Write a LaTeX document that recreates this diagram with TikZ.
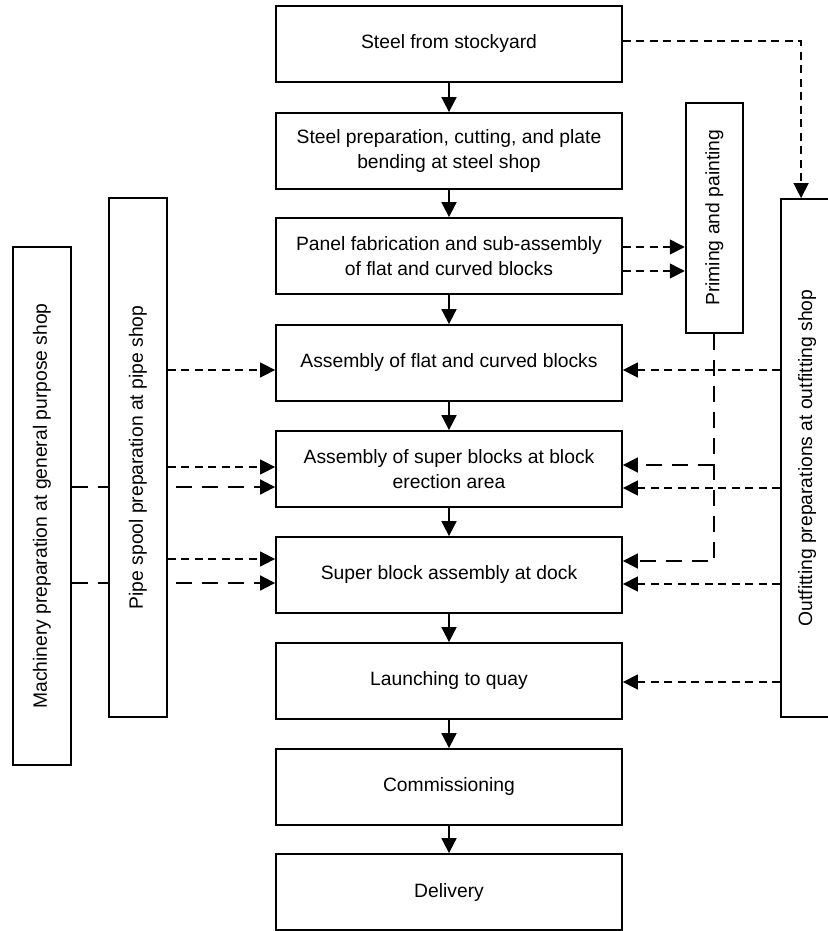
\documentclass[tikz,border=0pt]{standalone}
\usepackage{fontspec}
\setmainfont{Liberation Sans}
\usetikzlibrary{arrows.meta,calc}
\newcommand{\boxfont}{\fontsize{19.3pt}{25pt}\selectfont}
\tikzset{
  stepbox/.style={draw, line width=1.8pt, minimum width=346pt, minimum height=76pt, inner sep=0pt, align=center, font=\boxfont},
  sidebox/.style={draw, line width=1.8pt, inner sep=0pt, minimum width=58pt},
  sidetext/.style={rotate=90, font=\boxfont, inner sep=0pt},
  flow/.style={line width=1.8pt, -{Triangle[length=15pt,width=15pt]}},
  feed/.style={line width=1.5pt, dash pattern=on 8pt off 5.5pt, -{Triangle[length=15pt,width=15pt]}},
  longfeed/.style={line width=1.8pt, dash pattern=on 16pt off 10pt, -{Triangle[length=15pt,width=15pt]}},
  plainlong/.style={line width=1.8pt, dash pattern=on 16pt off 10pt}
}
\begin{document}
\begin{tikzpicture}[x=1pt,y=-1pt]
\useasboundingbox (0,0) rectangle (827,931);
% central process boxes
\node[stepbox] (s1) at (449,44) {Steel from stockyard};
\node[stepbox] (s2) at (449,151) {Steel preparation, cutting, and plate\\bending at steel shop};
\node[stepbox] (s3) at (449,256) {Panel fabrication and sub-assembly\\of flat and curved blocks};
\node[stepbox] (s4) at (449,363) {Assembly of flat and curved blocks};
\node[stepbox] (s5) at (449,469) {Assembly of super blocks at block\\erection area};
\node[stepbox] (s6) at (449,575) {Super block assembly at dock};
\node[stepbox] (s7) at (449,681) {Launching to quay};
\node[stepbox] (s8) at (449,787) {Commissioning};
\node[stepbox] (s9) at (449,892) {Delivery};
% side boxes
\node[sidebox, minimum height=518pt] (mach) at (42,506) {};
\node[sidetext] (macht) at (mach.center) {Machinery preparation at general purpose shop};
\node[sidebox, minimum width=57.3pt, minimum height=230pt] (prim) at (714.3,217.7) {};
\node[sidetext] (primt) at (prim.center) {Priming and painting};
\node[sidebox, minimum height=518pt] (out) at (810,458) {};
\node[sidetext] (outt) at ([xshift=-3pt]out.center) {Outfitting preparations at outfitting shop};
% coordinates for connector heights
\coordinate (p4) at ([yshift=-7pt]s4.west);
\coordinate (p5) at ([yshift=2pt]s5.west);
\coordinate (m5) at ([yshift=-18pt]s5.west);
\coordinate (p6) at ([yshift=16pt]s6.west);
\coordinate (m6) at ([yshift=-8pt]s6.west);
% machinery connectors (pass behind pipe box)
\draw[longfeed] (mach.east |- m5) -- (m5);
\draw[longfeed] (mach.east |- m6) -- (m6);
% pipe box drawn over them
\node[sidebox, fill=white, minimum height=519pt] (pipe) at (138,457.5) {};
\node[sidetext] (pipet) at (pipe.center) {Pipe spool preparation at pipe shop};
% pipe connectors
\draw[feed] (pipe.east |- p4) -- (p4);
\draw[feed] (pipe.east |- p5) -- (p5);
\draw[feed] (pipe.east |- p6) -- (p6);
% main flow
\draw[flow] (s1.south) -- (s2.north);
\draw[flow] (s2.south) -- (s3.north);
\draw[flow] (s3.south) -- (s4.north);
\draw[flow] (s4.south) -- (s5.north);
\draw[flow] (s5.south) -- (s6.north);
\draw[flow] (s6.south) -- (s7.north);
\draw[flow] (s7.south) -- (s8.north);
\draw[flow] (s8.south) -- (s9.north);
% stockyard to outfitting
\coordinate (t1) at ([yshift=3pt]s1.east);
\coordinate (t2) at ([xshift=21pt]out.north west);
\draw[feed] (t1) -| (t2);
% panel to priming
\coordinate (q1) at ([yshift=9pt]s3.east);
\coordinate (q2) at ([yshift=-15pt]s3.east);
\draw[feed] (q1) -- (prim.west |- q1);
\draw[feed] (q2) -- (prim.west |- q2);
% priming to blocks (long dashes)
\coordinate (r5) at ([yshift=4pt]s5.east);
\coordinate (r6) at ([yshift=14pt]s6.east);
\draw[longfeed] (prim.south) |- (r6);
\draw[longfeed] (prim.south |- r5) -- (r5);
% outfitting to blocks
\coordinate (o4) at ([yshift=-7pt]s4.east);
\coordinate (o5) at ([yshift=-19pt]s5.east);
\coordinate (o6) at ([yshift=-9pt]s6.east);
\coordinate (o7) at ([yshift=-1pt]s7.east);
\draw[feed] (out.west |- o4) -- (o4);
\draw[feed] (out.west |- o5) -- (o5);
\draw[feed] (out.west |- o6) -- (o6);
\draw[feed] (out.west |- o7) -- (o7);
\end{tikzpicture}
\end{document}
